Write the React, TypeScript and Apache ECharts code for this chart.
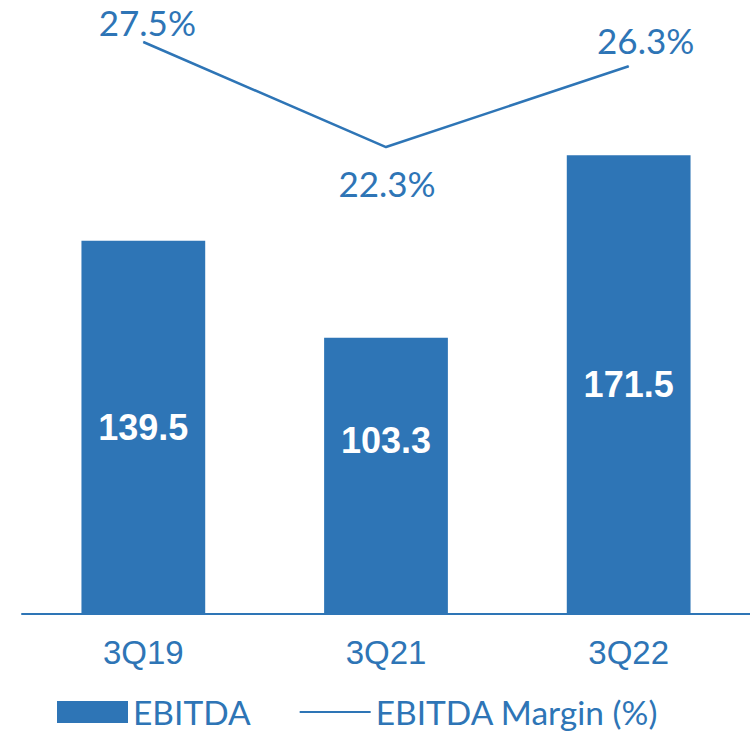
import React, { useEffect, useRef } from "react";
import * as echarts from "echarts";

const categories = ["3Q19", "3Q21", "3Q22"];
const ebitda = [139.5, 103.3, 171.5];
const margin = [27.5, 22.3, 26.3];

const BLUE = "#2e75b6";

export default function App() {
  const ref = useRef<HTMLDivElement>(null);
  useEffect(() => {
    if (!ref.current) return;
    const chart = echarts.init(ref.current, null, { renderer: "svg" });
    const barLabelOffsets = [[0, 0], [0, -35], [0, 0]];
    const lineLabelOffsets = [[4, -20], [1, 36], [17, -26]];
    chart.setOption({
      animation: false,
      grid: { left: 22, right: 0, top: 0, bottom: 119, containLabel: false },
      legend: {
        left: 57,
        top: 695,
        padding: 0,
        itemWidth: 71,
        itemHeight: 22,
        itemGap: 48,
        textStyle: { fontFamily: "Lato", fontSize: 33.5, lineHeight: 32, color: BLUE },
        data: [
          { name: "EBITDA", icon: "rect" },
          { name: "EBITDA Margin (%)", itemStyle: { opacity: 0 } },
        ],
      },
      xAxis: {
        type: "category",
        data: categories,
        axisLine: { lineStyle: { color: BLUE, width: 2 } },
        axisTick: { show: false },
        axisLabel: {
          color: BLUE,
          fontFamily: "Liberation Sans",
          fontSize: 33,
          margin: 22,
        },
      },
      yAxis: [
        { type: "value", min: 0, max: 229.5, show: false, splitLine: { show: false } },
        { type: "value", min: -0.82, max: 29.58, show: false, splitLine: { show: false } },
      ],
      series: [
        {
          name: "EBITDA",
          type: "bar",
          barWidth: "51%",
          itemStyle: { color: BLUE },
          data: ebitda.map((v, i) => ({
            value: v,
            label: { offset: barLabelOffsets[i] },
          })),
          label: {
            show: true,
            position: "inside",
            color: "#ffffff",
            fontFamily: "Liberation Sans",
            fontWeight: "bold",
            fontSize: 36,
            formatter: (p: any) => p.value.toFixed(1),
          },
          z: 2,
        },
        {
          name: "EBITDA Margin (%)",
          type: "line",
          yAxisIndex: 1,
          symbol: "circle",
          symbolSize: 1,
          itemStyle: { color: BLUE },
          lineStyle: { color: BLUE, width: 2.5 },
          data: margin.map((v, i) => ({
            value: v,
            label: { offset: lineLabelOffsets[i] },
          })),
          label: {
            show: true,
            position: "inside",
            color: BLUE,
            fontFamily: "Lato",
            fontSize: 35,
            formatter: (p: any) => p.value.toFixed(1) + "%",
          },
          z: 3,
        },
      ],
    });
    return () => chart.dispose();
  }, []);
  return (
    <div
      ref={ref}
      style={{ position: "absolute", left: 0, top: 0, width: 750, height: 733 }}
    />
  );
}
